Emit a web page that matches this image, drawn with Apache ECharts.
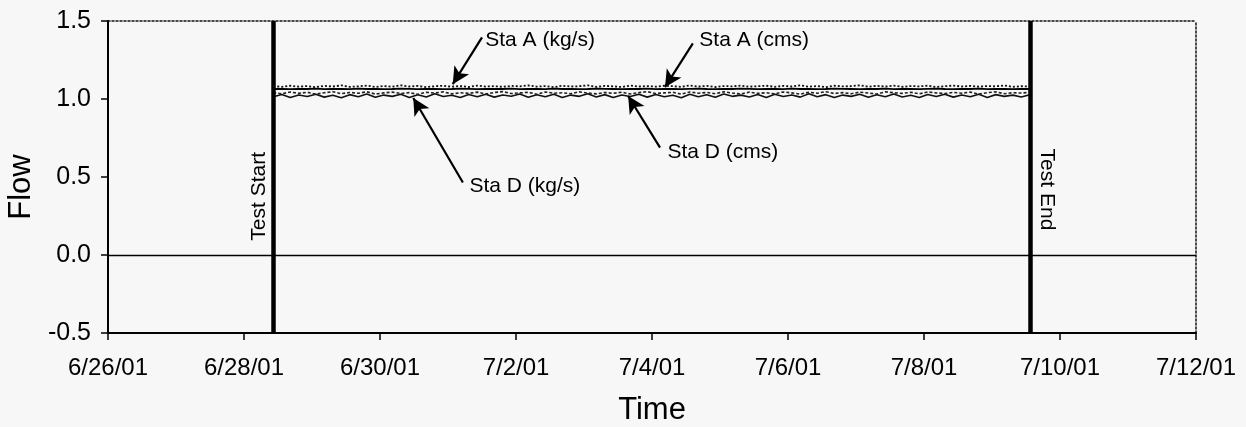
<!DOCTYPE html>
<html>
<head>
<meta charset="utf-8">
<script src="https://cdn.jsdelivr.net/npm/echarts@6/dist/echarts.min.js"></script>
<style>
  html, body { margin: 0; padding: 0; background: #f7f7f7; }
  #chart { width: 1246px; height: 427px; }
</style>
</head>
<body>
<div id="chart"></div>
<script>
// ---------- data ----------
const axisStart = '2001-06-26T00:00';
const axisEnd = '2001-07-12T00:00';
const tickDays = 2;
const yTicks = [-0.5, 0.0, 0.5, 1.0, 1.5];

const testStart = '2001-06-28T10:20';
const testEnd = '2001-07-09T13:25';

const sampleStart = '2001-06-28T10:20';
const sampleStepHours = 3;

const seriesNames = ['Sta A (kg/s)', 'Sta A (cms)', 'Sta D (kg/s)', 'Sta D (cms)'];

const staA_kgs = [
1.082,1.078,1.085,1.079,1.083,1.076,1.084,1.080,1.087,1.078,
1.081,1.086,1.077,1.083,1.079,1.088,1.080,1.084,1.076,1.082,
1.085,1.079,1.083,1.077,1.086,1.080,1.082,1.078,1.084,1.081,
1.087,1.079,1.083,1.076,1.085,1.080,1.082,1.088,1.078,1.084,
1.081,1.077,1.086,1.080,1.083,1.079,1.085,1.082,1.078,1.087,
1.080,1.084,1.077,1.083,1.081,1.086,1.079,1.082,1.085,1.078,
1.084,1.080,1.087,1.079,1.083,1.076,1.085,1.081,1.082,1.088,
1.079,1.084,1.080,1.086,1.078,1.083,1.081,1.085,1.077,1.082,
1.086,1.080,1.084,1.079,1.083,1.081,1.087,1.078,1.082,1.080];

const staA_cms = [
1.064,1.065,1.063,1.065,1.064,1.066,1.063,1.064,1.065,1.063,
1.066,1.064,1.065,1.063,1.064,1.066,1.065,1.063,1.064,1.065,
1.063,1.064,1.066,1.065,1.063,1.064,1.065,1.064,1.066,1.063,
1.065,1.064,1.063,1.066,1.064,1.065,1.063,1.064,1.066,1.065,
1.064,1.063,1.065,1.064,1.066,1.063,1.065,1.064,1.063,1.065,
1.066,1.064,1.063,1.065,1.064,1.066,1.065,1.063,1.064,1.065,
1.063,1.066,1.064,1.065,1.063,1.064,1.066,1.065,1.064,1.063,
1.065,1.064,1.066,1.063,1.065,1.064,1.063,1.065,1.066,1.064,
1.063,1.065,1.064,1.066,1.063,1.065,1.064,1.063,1.065,1.064];

const staD_kgs = [
1.014,1.029,1.010,1.026,1.016,1.031,1.012,1.024,1.008,1.028,
1.015,1.032,1.011,1.025,1.017,1.030,1.009,1.027,1.013,1.033,
1.016,1.024,1.010,1.029,1.014,1.031,1.012,1.026,1.018,1.032,
1.011,1.027,1.015,1.030,1.009,1.025,1.017,1.033,1.013,1.028,
1.010,1.026,1.016,1.031,1.012,1.029,1.014,1.024,1.008,1.030,
1.015,1.027,1.011,1.032,1.017,1.025,1.013,1.029,1.010,1.031,
1.016,1.026,1.012,1.033,1.014,1.028,1.009,1.025,1.017,1.030,
1.011,1.027,1.015,1.032,1.013,1.024,1.010,1.029,1.016,1.031,
1.012,1.026,1.014,1.030,1.010,1.028,1.017,1.025,1.013,1.027];

const staD_cms = [
1.041,1.033,1.045,1.036,1.043,1.031,1.040,1.047,1.034,1.042,
1.037,1.046,1.032,1.039,1.044,1.035,1.041,1.030,1.043,1.038,
1.046,1.033,1.040,1.036,1.044,1.032,1.042,1.047,1.035,1.039,
1.043,1.031,1.045,1.037,1.040,1.034,1.046,1.038,1.033,1.042,
1.036,1.044,1.032,1.041,1.047,1.035,1.039,1.043,1.031,1.045,
1.037,1.042,1.034,1.046,1.038,1.032,1.044,1.036,1.040,1.033,
1.045,1.039,1.031,1.043,1.037,1.047,1.035,1.041,1.034,1.044,
1.038,1.032,1.046,1.040,1.036,1.043,1.033,1.045,1.039,1.035,
1.042,1.037,1.044,1.031,1.041,1.046,1.034,1.040,1.038,1.043];

// annotation callouts: label text, text anchor, arrow start, arrow tip
const calloutLabels = ['Sta A (kg/s)', 'Sta A (cms)', 'Sta D (cms)', 'Sta D (kg/s)'];
const calloutTextAt = [['2001-07-01T12:15', 1.376], ['2001-07-04T15:50', 1.376], ['2001-07-04T04:35', 0.656], ['2001-07-01T06:40', 0.440]];
const calloutFrom = [['2001-07-01T12:00', 1.395], ['2001-07-04T14:25', 1.357], ['2001-07-04T02:50', 0.688], ['2001-07-01T05:15', 0.465]];
const calloutTo = [['2001-07-01T01:40', 1.095], ['2001-07-04T04:35', 1.076], ['2001-07-03T15:35', 1.019], ['2001-06-30T11:45', 1.006]];

const eventLabels = ['Test Start', 'Test End'];
const eventLabelAt = [['2001-06-28T05:15', 0.376], ['2001-07-09T19:25', 0.420]];

// ---------- helpers ----------
const DAY = 86400000;
const baseMs = Date.parse(axisStart + ':00Z');
function toDay(s) { return (Date.parse(s + ':00Z') - baseMs) / DAY; }
function fmtDay(v) {
  const d = new Date(baseMs + v * DAY);
  return (d.getUTCMonth() + 1) + '/' + d.getUTCDate() + '/' + String(d.getUTCFullYear()).slice(2);
}
const x0 = toDay(sampleStart);
const stepDays = sampleStepHours / 24;
function pairs(arr) { return arr.map((v, i) => [x0 + i * stepDays, v]); }

const FONT = 'Liberation Sans, Arial, sans-serif';

const chart = echarts.init(document.getElementById('chart'), null, { renderer: 'canvas' });

const commonLine = { type: 'line', showSymbol: false, symbol: 'none', silent: true, animation: false, xAxisIndex: 0, yAxisIndex: 0 };

const option = {
  backgroundColor: '#f7f7f7',
  animation: false,
  textStyle: { fontFamily: FONT },
  grid: { left: 108, right: 50, top: 21, bottom: 94, containLabel: false, outerBoundsMode: 'none' },
  xAxis: [{
    type: 'value', min: toDay(axisStart), max: toDay(axisEnd), interval: tickDays,
    name: 'Time', nameLocation: 'middle', nameGap: 62,
    nameTextStyle: { fontSize: 31, color: '#000', fontFamily: FONT },
    axisLine: { show: true, onZero: false, lineStyle: { color: '#000', width: 2 } },
    axisTick: { show: true, length: 7, inside: false, lineStyle: { color: '#000', width: 1.5 } },
    axisLabel: { formatter: fmtDay, fontSize: 24, color: '#000', margin: 23, fontFamily: FONT },
    splitLine: { show: false }
  }, {
    type: 'value', position: 'top', min: toDay(axisStart), max: toDay(axisEnd),
    axisLine: { show: true, onZero: false, lineStyle: { color: '#111', width: 1.5, type: [2, 2] } },
    axisTick: { show: false }, axisLabel: { show: false }, splitLine: { show: false }
  }],
  yAxis: [{
    type: 'value', min: yTicks[0], max: yTicks[yTicks.length - 1], interval: 0.5,
    name: 'Flow', nameLocation: 'middle', nameGap: 66, nameRotate: 90,
    nameTextStyle: { fontSize: 31, color: '#000', fontFamily: FONT, padding: [0, 20, 0, 0] },
    axisLine: { show: true, onZero: false, lineStyle: { color: '#000', width: 2 } },
    axisTick: { show: true, length: 7, inside: false, lineStyle: { color: '#000', width: 1.5 } },
    axisLabel: { formatter: v => v.toFixed(1), fontSize: 25, color: '#000', margin: 17, fontFamily: FONT },
    splitLine: { show: false }
  }, {
    type: 'value', position: 'right', min: yTicks[0], max: yTicks[yTicks.length - 1],
    axisLine: { show: true, onZero: false, lineStyle: { color: '#111', width: 1.5, type: [2, 2] } },
    axisTick: { show: false }, axisLabel: { show: false }, splitLine: { show: false }
  }],
  series: [
    Object.assign({}, commonLine, {
      name: seriesNames[0], data: pairs(staA_kgs), z: 5,
      lineStyle: { color: '#111', width: 1.8, type: [2, 2] },
      markLine: {
        silent: true, symbol: ['none', 'none'], animation: false,
        label: { show: false },
        data: [
          { xAxis: toDay(testStart), lineStyle: { color: '#000', width: 4.5, type: 'solid' } },
          { xAxis: toDay(testEnd), lineStyle: { color: '#000', width: 4.5, type: 'solid' } },
          { yAxis: 0, lineStyle: { color: '#000', width: 1.3, type: 'solid' } }
        ]
      }
    }),
    Object.assign({}, commonLine, {
      name: seriesNames[1], data: pairs(staA_cms), z: 6,
      lineStyle: { color: '#000', width: 1.8 },
      markLine: {
        silent: true, symbol: ['none', 'arrow'], symbolSize: [13, 17], animation: false,
        label: { show: false },
        lineStyle: { color: '#000', width: 2.2, type: 'solid' },
        data: calloutFrom.map((f, i) => [
          { coord: [toDay(f[0]), f[1]] },
          { coord: [toDay(calloutTo[i][0]), calloutTo[i][1]] }
        ])
      }
    }),
    Object.assign({}, commonLine, {
      name: seriesNames[2], data: pairs(staD_kgs), z: 4,
      lineStyle: { color: '#111', width: 1.6 },
      markPoint: {
        silent: true, animation: false, symbol: 'circle', symbolSize: 1,
        itemStyle: { color: 'rgba(0,0,0,0)' },
        label: { show: true, position: 'right', distance: 2, color: '#000', fontSize: 21, fontFamily: FONT,
                 formatter: p => p.name },
        data: calloutLabels.map((t, i) => ({ name: t, coord: [toDay(calloutTextAt[i][0]), calloutTextAt[i][1]] }))
      }
    }),
    Object.assign({}, commonLine, {
      name: seriesNames[3], data: pairs(staD_cms), z: 4,
      lineStyle: { color: '#222', width: 1.6, type: [3, 2] },
      markPoint: {
        silent: true, animation: false, symbol: 'circle', symbolSize: 1,
        itemStyle: { color: 'rgba(0,0,0,0)' },
        data: eventLabels.map((t, i) => ({
          name: t, coord: [toDay(eventLabelAt[i][0]), eventLabelAt[i][1]],
          label: { show: true, position: 'inside', rotate: i === 0 ? 90 : -90, color: '#000',
                   fontSize: 21, fontFamily: FONT, formatter: p => p.name }
        }))
      }
    })
  ]
};
chart.setOption(option);
</script>
</body>
</html>
